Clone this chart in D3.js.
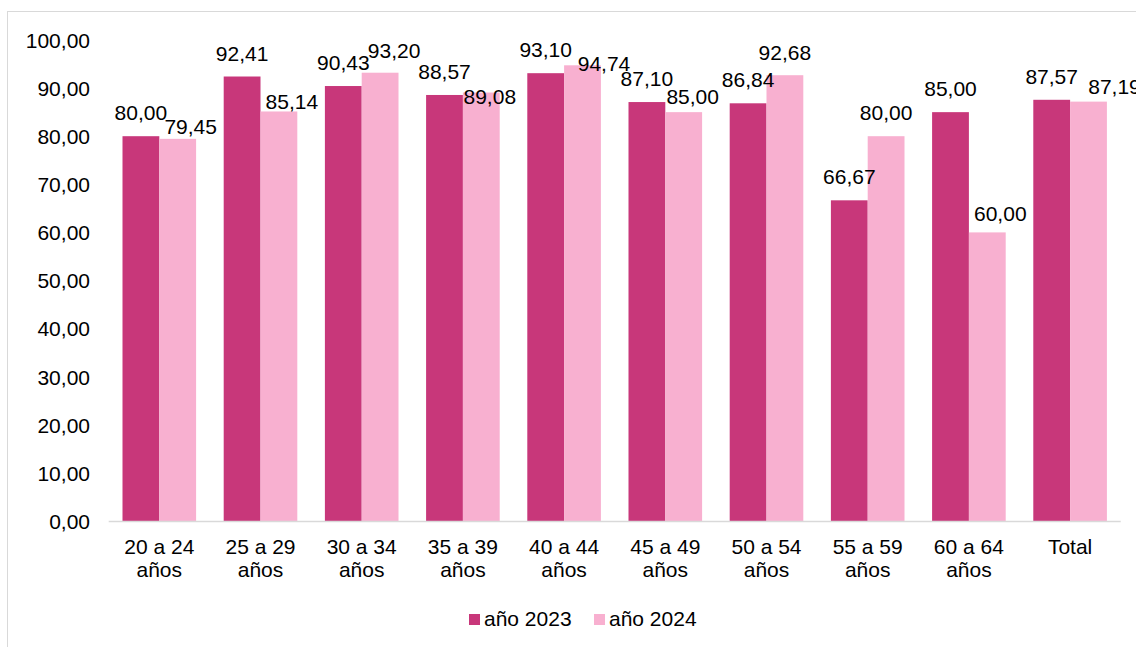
<!DOCTYPE html>
<html>
<head>
<meta charset="utf-8">
<script src="https://cdn.jsdelivr.net/npm/d3@7/dist/d3.min.js"></script>
<style>
  html, body { margin: 0; padding: 0; background: #fff; }
  svg { display: block; font-family: "Liberation Sans", Arial, sans-serif; }
</style>
</head>
<body>
<svg id="chart" width="1136" height="647"></svg>
<script>
// ---- data ----
const categories = ["20 a 24 años", "25 a 29 años", "30 a 34 años", "35 a 39 años", "40 a 44 años",
                    "45 a 49 años", "50 a 54 años", "55 a 59 años", "60 a 64 años", "Total"];
const values2023 = [80.00, 92.41, 90.43, 88.57, 93.10, 87.10, 86.84, 66.67, 85.00, 87.57];
const values2024 = [79.45, 85.14, 93.20, 89.08, 94.74, 85.00, 92.68, 80.00, 60.00, 87.19];
const seriesNames = ["año 2023", "año 2024"];
const yTicks = [0, 10, 20, 30, 40, 50, 60, 70, 80, 90, 100];
// manual label nudges (dx, dy) applied to the 2024 data labels, as in the source chart
const labelNudge2024 = [[13, 11], [13, 13.5], [14, 1.5], [8.5, 27.5], [21.5, 21.5],
                        [9, 8], [0, 1], [0, 0], [13, 5], [26, 8.5]];

// ---- layout ----
const svg = d3.select("#chart");
const colors = ["#C8377A", "#F8B0D0"];
const fmt = v => d3.format(".2f")(v).replace(".", ",");
const FS = 21;

// outer chart border
svg.append("rect").attr("x", 7.5).attr("y", 11.5).attr("width", 1200).attr("height", 700)
  .attr("fill", "none").attr("stroke", "#d9d9d9").attr("stroke-width", 1);

const x0 = 108.7, x1 = 1120.7, yBottom = 521, yTop = 40;
const x = d3.scaleBand().domain(categories).range([x0, x1]).paddingInner(0.2727).paddingOuter(0.13635);
const xs = d3.scaleBand().domain(seriesNames).range([0, x.bandwidth()]);
const y = d3.scaleLinear().domain([0, 100]).range([yBottom, yTop]);

// y axis labels (no line, no ticks)
const yAxis = d3.axisLeft(y).tickValues(yTicks).tickFormat(fmt).tickSize(0).tickPadding(0);
const gy = svg.append("g").attr("transform", "translate(90,0)").call(yAxis);
gy.select(".domain").remove();
gy.selectAll("text").attr("font-size", FS).attr("fill", "#000")
  .attr("font-family", "'Liberation Sans', Arial, sans-serif").attr("dy", "0.35em");

// bars
const data = categories.map((c, i) => ({ c, i, vals: [values2023[i], values2024[i]] }));
const groups = svg.append("g").selectAll("g").data(data).join("g")
  .attr("transform", d => `translate(${x(d.c)},0)`);
groups.selectAll("rect").data(d => d.vals.map((v, k) => ({ v, k, i: d.i }))).join("rect")
  .attr("x", d => xs(seriesNames[d.k]))
  .attr("width", xs.bandwidth())
  .attr("y", d => y(d.v))
  .attr("height", d => y(0) - y(d.v))
  .attr("fill", d => colors[d.k]);

// x axis line
svg.append("line").attr("x1", x0).attr("x2", x1).attr("y1", yBottom + 0.5).attr("y2", yBottom + 0.5)
  .attr("stroke", "#d9d9d9").attr("stroke-width", 1.5);

// x axis labels (two lines)
const xl = svg.append("g").selectAll("text").data(categories).join("text")
  .attr("x", d => x(d) + x.bandwidth() / 2)
  .attr("y", 554)
  .attr("text-anchor", "middle").attr("font-size", FS).attr("fill", "#000");
xl.each(function(d) {
  const m = d.match(/^(.*) (años)$/);
  const t = d3.select(this);
  if (m) {
    t.append("tspan").attr("x", t.attr("x")).attr("dy", 0).text(m[1]);
    t.append("tspan").attr("x", t.attr("x")).attr("dy", 23).text(m[2]);
  } else {
    t.text(d);
  }
});

// data labels
groups.selectAll("text").data(d => d.vals.map((v, k) => ({ v, k, i: d.i }))).join("text")
  .attr("x", d => xs(seriesNames[d.k]) + xs.bandwidth() / 2 + (d.k === 1 ? labelNudge2024[d.i][0] : 0))
  .attr("y", d => y(d.v) - 16 + (d.k === 1 ? labelNudge2024[d.i][1] : 0))
  .attr("text-anchor", "middle").attr("font-size", FS).attr("fill", "#000")
  .text(d => fmt(d.v));

// legend
const legendX = [469, 594];
const lg = svg.append("g").selectAll("g").data(seriesNames).join("g")
  .attr("transform", (d, i) => `translate(${legendX[i]},614)`);
lg.append("rect").attr("width", 11).attr("height", 11).attr("fill", (d, i) => colors[i]);
lg.append("text").attr("x", 15).attr("y", 12).attr("font-size", FS).attr("fill", "#000").text(d => d);
</script>
</body>
</html>
